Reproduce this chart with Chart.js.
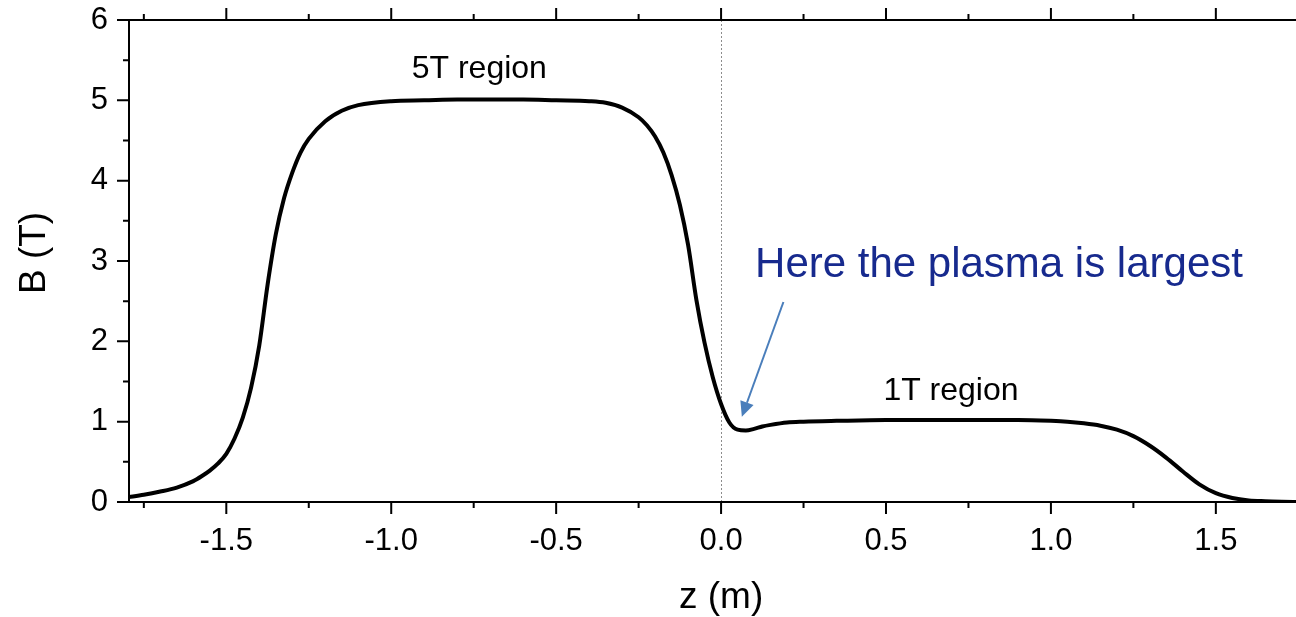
<!DOCTYPE html>
<html><head><meta charset="utf-8">
<script src="https://cdn.jsdelivr.net/npm/chart.js@4/dist/chart.umd.min.js"></script>
<style>html,body{margin:0;padding:0;background:#fff;overflow:hidden}
#wrap{width:1296px;height:617px;position:relative}</style></head>
<body><div id="wrap"><canvas id="c" width="1296" height="617"></canvas></div>
<script>
// ---- data ----
const zValues = [-1.8,-1.75,-1.7,-1.65,-1.6,-1.575,-1.55,-1.525,-1.5,-1.475,-1.45,-1.425,-1.4,-1.375,-1.35,-1.325,-1.3,-1.275,-1.25,-1.2,-1.15,-1.1,-1.0,-0.9,-0.8,-0.7,-0.6,-0.5,-0.4,-0.35,-0.3,-0.25,-0.225,-0.2,-0.175,-0.15,-0.125,-0.1,-0.075,-0.05,-0.025,0,0.025,0.05,0.075,0.1,0.125,0.15,0.2,0.25,0.35,0.5,0.7,0.9,1.0,1.05,1.1,1.15,1.2,1.25,1.3,1.35,1.4,1.45,1.5,1.55,1.6,1.65,1.7,1.75];
const bValues = [0.06,0.09,0.13,0.18,0.26,0.32,0.39,0.48,0.60,0.79,1.05,1.42,1.95,2.70,3.33,3.78,4.10,4.35,4.52,4.74,4.87,4.94,4.99,5.0,5.01,5.01,5.01,5.0,4.99,4.97,4.91,4.79,4.69,4.55,4.35,4.07,3.70,3.20,2.52,1.98,1.55,1.22,0.99,0.90,0.89,0.91,0.94,0.96,0.99,1.0,1.01,1.02,1.02,1.02,1.01,1.0,0.98,0.95,0.90,0.82,0.70,0.55,0.38,0.22,0.11,0.05,0.02,0.01,0.004,0.0];
const xMajorTicks = [-1.5,-1.0,-0.5,0.0,0.5,1.0,1.5];
const xMinorTicks = [-1.75,-1.25,-0.75,-0.25,0.25,0.75,1.25,1.75];
const yMajorTicks = [0,1,2,3,4,5,6];
const yMinorTicks = [0.5,1.5,2.5,3.5,4.5,5.5];
const xAxisTitle = 'z (m)';
const yAxisTitle = 'B (T)';
const regionLabels = [
  {text:'5T region', z:-0.733, b:5.28},
  {text:'1T region', z:0.697, b:1.27}
];
const noteText = {text:'Here the plasma is largest', z:0.103, b:2.80};
const noteArrow = {fromZ:0.189, fromB:2.49, toZ:0.063, toB:1.06};

const FONT = "Arial, 'Liberation Sans', sans-serif";

const decor = {
  id:'decor',
  beforeDatasetsDraw(chart){
    const {ctx, chartArea:a, scales:{x}} = chart;
    const px = Math.round(x.getPixelForValue(0)) + 0.5;
    ctx.save();
    ctx.strokeStyle = '#8c8c8c';
    ctx.lineWidth = 1;
    ctx.setLineDash([2,2]);
    ctx.beginPath(); ctx.moveTo(px, a.top); ctx.lineTo(px, a.bottom); ctx.stroke();
    ctx.restore();
  },
  afterDraw(chart){
    const {ctx, chartArea:a, scales:{x,y}} = chart;
    ctx.save();
    ctx.strokeStyle = '#000';
    ctx.lineWidth = 2;
    ctx.beginPath();
    ctx.moveTo(a.left, a.bottom); ctx.lineTo(a.right, a.bottom);
    ctx.moveTo(a.left, a.top); ctx.lineTo(a.right, a.top);
    ctx.moveTo(a.left, a.top-1); ctx.lineTo(a.left, a.bottom+1);
    const tick = (v, len) => {
      const p = x.getPixelForValue(v);
      ctx.moveTo(p, a.bottom); ctx.lineTo(p, a.bottom + len);
      ctx.moveTo(p, a.top); ctx.lineTo(p, a.top - len);
    };
    xMajorTicks.forEach(v => tick(v, 12));
    xMinorTicks.forEach(v => tick(v, 6));
    const ytick = (v, len) => {
      const p = y.getPixelForValue(v);
      ctx.moveTo(a.left, p); ctx.lineTo(a.left - len, p);
    };
    yMajorTicks.forEach(v => ytick(v, 12));
    yMinorTicks.forEach(v => ytick(v, 6));
    ctx.stroke();

    // axis titles
    ctx.fillStyle = '#000';
    ctx.font = '37px ' + FONT;
    ctx.textAlign = 'center';
    ctx.textBaseline = 'middle';
    ctx.fillText(xAxisTitle, x.getPixelForValue(0), 598);
    ctx.save();
    ctx.translate(35, y.getPixelForValue(3.1));
    ctx.rotate(-Math.PI/2);
    ctx.fillText(yAxisTitle, 0, 0);
    ctx.restore();

    ctx.font = '32px ' + FONT;
    ctx.textBaseline = 'alphabetic';
    regionLabels.forEach(r => ctx.fillText(r.text, x.getPixelForValue(r.z), y.getPixelForValue(r.b)));

    ctx.fillStyle = '#172a8e';
    ctx.font = '42px ' + FONT;
    ctx.textAlign = 'left';
    ctx.fillText(noteText.text, x.getPixelForValue(noteText.z), y.getPixelForValue(noteText.b));

    const x1 = x.getPixelForValue(noteArrow.fromZ), y1 = y.getPixelForValue(noteArrow.fromB);
    const x2 = x.getPixelForValue(noteArrow.toZ), y2 = y.getPixelForValue(noteArrow.toB);
    const ang = Math.atan2(y2-y1, x2-x1);
    const hl = 15, hw = 7;
    const bx = x2 - hl*Math.cos(ang), by = y2 - hl*Math.sin(ang);
    ctx.strokeStyle = '#4a7ebb'; ctx.fillStyle = '#4a7ebb';
    ctx.lineWidth = 2;
    ctx.beginPath(); ctx.moveTo(x1,y1); ctx.lineTo(bx,by); ctx.stroke();
    ctx.beginPath();
    ctx.moveTo(x2,y2);
    ctx.lineTo(bx + hw*Math.sin(ang), by - hw*Math.cos(ang));
    ctx.lineTo(bx - hw*Math.sin(ang), by + hw*Math.cos(ang));
    ctx.closePath(); ctx.fill();
    ctx.restore();
  }
};

new Chart(document.getElementById('c'), {
  type:'line',
  data:{
    datasets:[{
      data: zValues.map((z,i)=>({x:z, y:bValues[i]})),
      borderColor:'#000',
      borderWidth:4,
      pointRadius:0,
      fill:false,
      cubicInterpolationMode:'monotone'
    }]
  },
  options:{
    responsive:false,
    animation:false,
    devicePixelRatio:1,
    layout:{padding:{top:20,right:0,left:0,bottom:0}},
    plugins:{legend:{display:false}, tooltip:{enabled:false}},
    scales:{
      x:{
        type:'linear', min:-1.795, max:1.743,
        afterFit:s=>{ s.height = 115; s.paddingLeft = 0; s.paddingRight = 0; s.paddingTop = 0; s.paddingBottom = 0; },
        grid:{display:false, drawTicks:false},
        border:{display:false},
        afterBuildTicks:s=>{ s.ticks = xMajorTicks.map(v=>({value:v})); },
        ticks:{
          font:{family:FONT, size:31}, color:'#000', padding:21, maxRotation:0,
          callback:v=>Number(v).toFixed(1)
        },
        title:{display:false}
      },
      y:{
        min:0, max:6,
        afterFit:s=>{ s.width = 129; s.paddingTop = 0; s.paddingBottom = 0; s.paddingLeft = 0; s.paddingRight = 0; },
        grid:{display:false, drawTicks:false},
        border:{display:false},
        afterBuildTicks:s=>{ s.ticks = yMajorTicks.map(v=>({value:v})); },
        ticks:{font:{family:FONT, size:31}, color:'#000', padding:21},
        title:{display:false}
      }
    }
  },
  plugins:[decor]
});
</script></body></html>
